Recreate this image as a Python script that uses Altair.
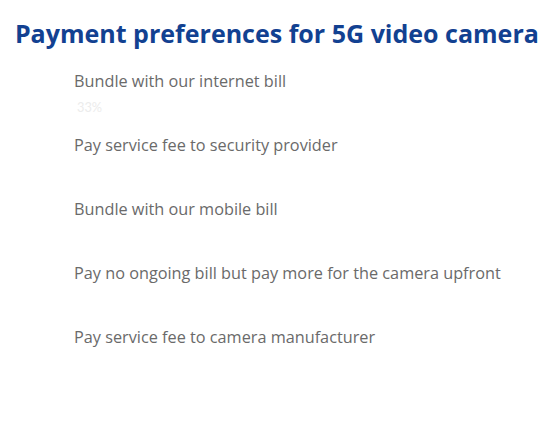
import altair as alt
import pandas as pd

categories = [
    "Bundle with our internet bill",
    "Pay service fee to security provider",
    "Bundle with our mobile bill",
    "Pay no ongoing bill but pay more for the camera upfront",
    "Pay service fee to camera manufacturer",
]
values = [33, 26, 19, 13, 9]

df = pd.DataFrame({"category": categories, "value": values})

base = alt.Chart(df).encode(
    y=alt.Y("category:N", sort=categories, axis=None,
            scale=alt.Scale(paddingInner=0, paddingOuter=0))
)

bars = base.mark_bar(size=22, color="#ffffff").encode(
    x=alt.X("value:Q", axis=None, scale=alt.Scale(domain=[0, 100]))
)

labels = base.mark_text(
    align="left", baseline="middle", dy=-27, fontSize=16.5, font="Open Sans", color="#6a6a6a"
).encode(x=alt.value(0), text="category:N")

vals = base.transform_calculate(
    label="format(datum.value, 'd') + '%'"
).mark_text(
    align="left", baseline="middle", dx=3, fontSize=13, font="Lato"
).encode(
    x=alt.value(0),
    text="label:N",
    color=alt.condition(
        alt.datum.category == categories[0], alt.value("#ececec"), alt.value("#ffffff")
    ),
)

chart = alt.layer(bars, labels, vals).properties(
    width=466,
    height=325,
    autosize=alt.AutoSizeParams(type="none"),
    padding={"left": 67, "top": 66.5, "right": 13, "bottom": 0},
    title=alt.Title(
        "Payment preferences for 5G video camera",
        anchor="start", fontSize=25.4, font="Open Sans", fontWeight="bold",
        color="#124191", dx=-60, offset=6, baseline="alphabetic",
    ),
).configure_view(stroke=None)

chart.save("out.html", embed_options={"renderer": "svg", "actions": False})
